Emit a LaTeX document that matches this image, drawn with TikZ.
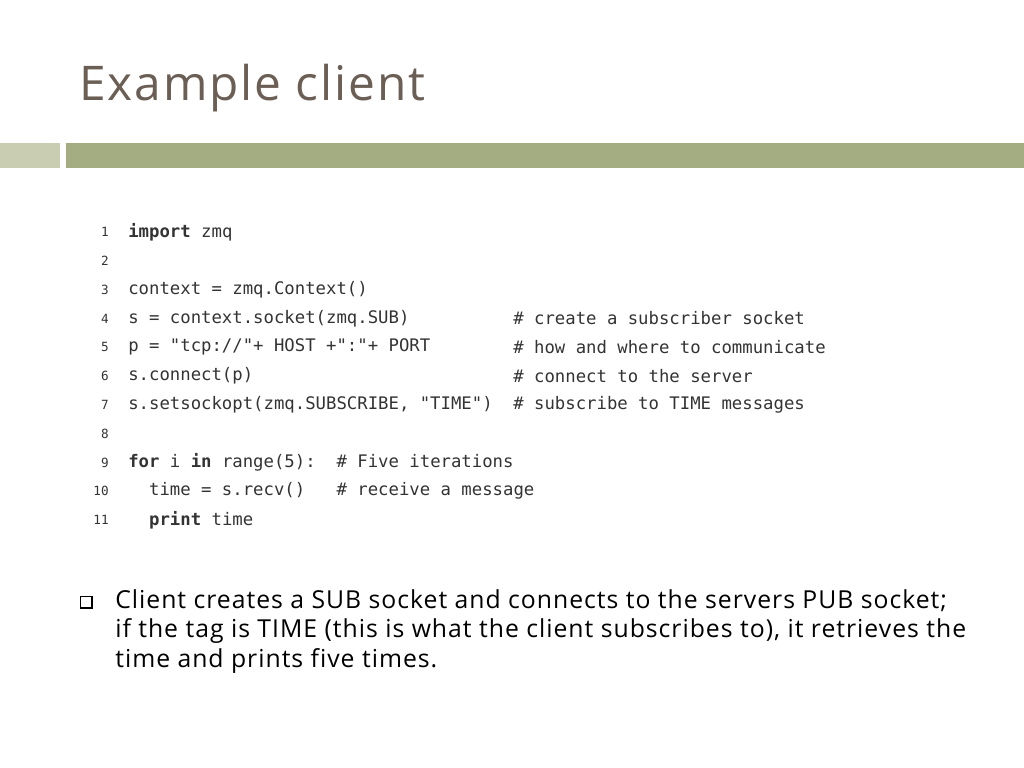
\documentclass[tikz,border=0pt]{standalone}
\usepackage{fontspec}
\setmainfont{Open Sans}[Ligatures=NoCommon]
\newfontfamily\slidefont{Open Sans}[Ligatures=NoCommon, LetterSpace=4]
\newfontfamily\codefont{DejaVu Sans Mono}
\definecolor{titlegray}{HTML}{6B5E55}
\definecolor{barmain}{HTML}{A4AC81}
\definecolor{barlight}{HTML}{C9CEB2}
\definecolor{codegray}{HTML}{333333}
\begin{document}
\begin{tikzpicture}[x=0.025cm,y=-0.025cm,
  codeline/.style={anchor=west, inner sep=0pt, font=\codefont\fontsize{12.3}{14}\selectfont, text=codegray},
  lineno/.style={anchor=east, inner sep=0pt, font=\codefont\fontsize{9}{10}\selectfont, text=codegray},
  bullettext/.style={anchor=west, inner sep=0pt, font=\slidefont\fontsize{17.6}{20}\selectfont}]
    \useasboundingbox (0,0) rectangle (1024,768);
    % title and bars
    \node[anchor=base west, inner sep=0pt, text=titlegray, font=\slidefont\fontsize{34}{36}\selectfont] (title) at (79,101) {Example client};
    \fill[barlight] (0,143) rectangle (60,168);
    \fill[barmain] (66,143) rectangle (1024,168);
    % code
    \foreach \i/\txt/\cmt in {
      1/{\textbf{import} zmq}/{},
      2/{}/{},
      3/{context = zmq.Context()}/{},
      4/{s = context.socket(zmq.SUB)}/{\# create a subscriber socket},
      5/{p = "tcp://"+ HOST +":"+ PORT}/{\# how and where to communicate},
      6/{s.connect(p)}/{\# connect to the server},
      7/{s.setsockopt(zmq.SUBSCRIBE, "TIME")}/{\# subscribe to TIME messages},
      8/{}/{},
      9/{\textbf{for} i \textbf{in} range(5):\ \ \# Five iterations}/{},
      10/{\ \ time = s.recv()\ \ \ \# receive a message}/{},
      11/{\ \ \textbf{print} time}/{}} {
      \node[lineno] (n\i) at (109,{232+28.8*(\i-1)}) {\i};
      \node[codeline] (c\i) at (128,{232+28.8*(\i-1)}) {\txt};
      \node[codeline] (m\i) at (513,{232+28.8*(\i-1)}) {\cmt};
    }
    % bullet
    \draw[line width=0.9pt] (80.5,596.5) rectangle (92,608);
    \node[bullettext] (b1) at (115,601) {Client creates a SUB socket and connects to the servers PUB socket;};
    \node[bullettext] (b2) at (115,631) {if the tag is TIME (this is what the client subscribes to), it retrieves the};
    \node[bullettext] (b3) at (115,661) {time and prints five times.};
\end{tikzpicture}
\end{document}
